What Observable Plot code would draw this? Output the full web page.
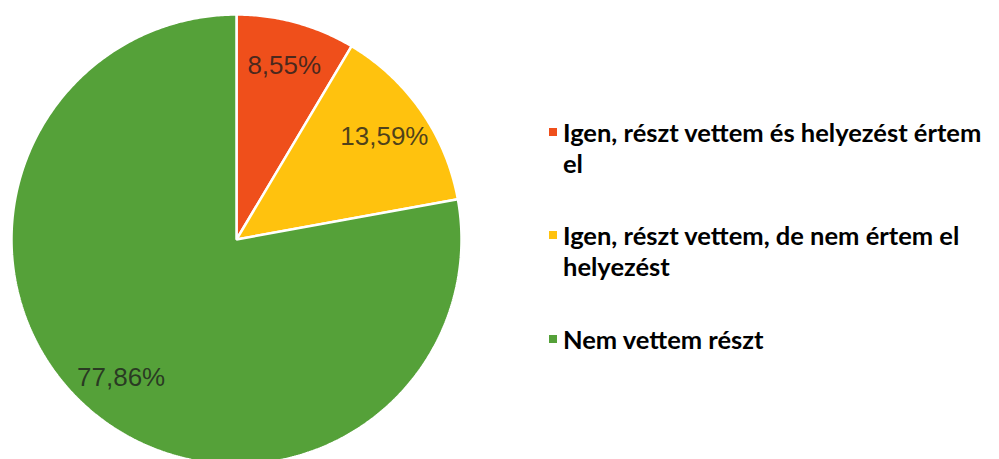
<!DOCTYPE html>
<html>
<head>
<meta charset="utf-8">
<script src="https://cdn.jsdelivr.net/npm/d3@7"></script>
<script src="https://cdn.jsdelivr.net/npm/@observablehq/plot@0.6"></script>
<style>
  html, body { margin: 0; padding: 0; background: #fff; }
  #wrap { position: relative; width: 999px; height: 459px; overflow: hidden; }
  #chart { position: absolute; left: 0; top: 0; }
  #legend { position: absolute; left: 549px; top: 116.6px; width: 450px;
            font-family: Lato, "Open Sans", sans-serif; font-weight: 700; font-size: 25.5px;
            line-height: 31px; color: #000; }
  .item { display: flex; align-items: flex-start; margin-bottom: 41.5px; }
  .sw { flex: 0 0 8px; width: 8px; height: 8px; margin-top: 11px; margin-right: 6px; }
  .lab { flex: 1; }
</style>
</head>
<body>
<div id="wrap">
  <div id="chart"></div>
  <div id="legend"></div>
</div>
<script>
// Data
const categories = [
  "Igen, részt vettem és helyezést értem el",
  "Igen, részt vettem, de nem értem el helyezést",
  "Nem vettem részt"
];
const values = [8.55, 13.59, 77.86];
const colors = ["#ef4f1b", "#ffc20e", "#55a139"];

// Build slices (clockwise from 12 o'clock)
const total = d3.sum(values);
let acc = 0;
const slices = categories.map((c, i) => {
  const a0 = acc / total * 2 * Math.PI;
  acc += values[i];
  const a1 = acc / total * 2 * Math.PI;
  return { cat: c, value: values[i], a0, a1, mid: (a0 + a1) / 2 };
});

const pts = [];
for (const s of slices) {
  pts.push({ cat: s.cat, x: 0, y: 0 });
  const n = Math.max(8, Math.ceil((s.a1 - s.a0) / (Math.PI / 360)));
  for (let k = 0; k <= n; k++) {
    const a = s.a0 + (s.a1 - s.a0) * k / n;
    pts.push({ cat: s.cat, x: Math.sin(a), y: Math.cos(a) });
  }
}

const fmt = v => v.toFixed(2).replace(".", ",") + "%";

const chart = Plot.plot({
  width: 520,
  height: 459,
  x: { domain: [-1, 1], range: [11, 461], axis: null },
  y: { domain: [-1, 1], range: [464, 14], axis: null },
  color: { domain: categories, range: colors },
  marks: [
    Plot.line(pts, {
      x: "x", y: "y", z: "cat", fill: "cat",
      stroke: "white", strokeWidth: 2.5, strokeLinejoin: "miter",
      curve: "linear-closed"
    }),
    Plot.text(slices, {
      x: d => 0.8 * Math.sin(d.mid),
      y: d => 0.8 * Math.cos(d.mid),
      text: d => fmt(d.value),
      fill: "#1e1e1e",
      fillOpacity: 0.8,
      fontSize: 26,
      fontFamily: "Liberation Sans, Arial, sans-serif"
    })
  ]
});
document.getElementById("chart").appendChild(chart);

// Legend
const legend = d3.select("#legend");
categories.forEach((c, i) => {
  const it = legend.append("div").attr("class", "item");
  it.append("div").attr("class", "sw").style("background", colors[i]);
  it.append("div").attr("class", "lab").text(c);
});
</script>
</body>
</html>
